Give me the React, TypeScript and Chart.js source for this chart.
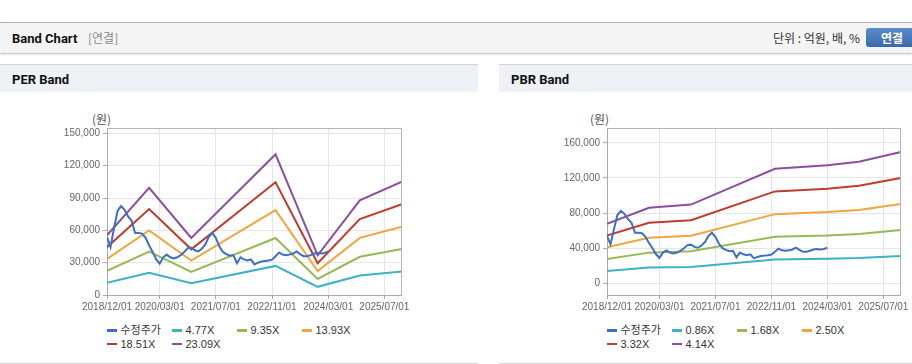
import React, { useEffect, useRef } from 'react';
import { Chart, registerables } from 'chart.js';

Chart.register(...registerables);

// ---- shared x axis (months since 2018/12) ----
const xMax = 84;
const xTickMonths = [0, 15, 31, 47, 63, 79];
const xTickLabels = ['2018/12/01', '2020/03/01', '2021/07/01', '2022/11/01', '2024/03/01', '2025/07/01'];

// ---- adjusted price (monthly from 2018/12) ----
const priceLabel = '수정주가';
const priceValues = [
  53800, 44500, 62000, 78000, 82500, 79000, 73000, 69000, 57600, 57600,
  57000, 53000, 46000, 40000, 33000, 29000, 35000, 37500, 35000, 34000,
  35000, 37000, 39900, 43500, 44000, 41500, 40500, 43000, 47000, 54000,
  57600, 53000, 45000, 40000, 38000, 36500, 37000, 29500, 35000, 33000,
  32000, 33000, 28400, 30000, 31000, 31500, 32000, 32800, 36000, 39500,
  37500, 37000, 37500, 38500, 40500, 38000, 36000, 36000, 37000, 38500,
  39000, 38500, 39000, 40500,
];

// ---- PER band ----
const perBandMonths = [0, 12, 24, 48, 60, 72, 84];
const perLabels = ['4.77X', '9.35X', '13.93X', '18.51X', '23.09X'];
const per477 = [11400, 20600, 10900, 27000, 7600, 18100, 21700];
const per935 = [22400, 40300, 21400, 52900, 14900, 35500, 42600];
const per1393 = [33400, 60000, 31900, 78800, 22200, 53000, 63400];
const per1851 = [44400, 79800, 42400, 104700, 29500, 70400, 84300];
const per2309 = [55400, 99500, 52900, 130600, 36800, 87800, 105100];
const perYTicks = [0, 30000, 60000, 90000, 120000, 150000];
const perYMin = 0;
const perYMax = 155000;

// ---- PBR band ----
const pbrBandMonths = [0, 12, 24, 48, 63, 72, 84];
const pbrLabels = ['0.86X', '1.68X', '2.50X', '3.32X', '4.14X'];
const pbr086 = [14100, 17900, 18600, 27100, 27900, 28800, 31100];
const pbr168 = [27500, 34900, 36400, 53000, 54500, 56200, 60700];
const pbr250 = [40900, 51900, 54200, 78800, 81200, 83600, 90400];
const pbr332 = [54400, 69000, 71900, 104700, 107800, 111100, 120000];
const pbr414 = [67800, 86000, 89700, 130500, 134400, 138500, 149700];
const pbrYTicks = [0, 40000, 80000, 120000, 160000];
const pbrYMin = -13400;
const pbrYMax = 177000;

const seriesColors = ['#3d6fc7', '#3bb3c5', '#97b954', '#f0a63c', '#c23b2e', '#8c4f9d'];

const KR = "'Noto Sans CJK KR', 'Liberation Sans', sans-serif";
const LAT = "'Liberation Sans', 'Noto Sans CJK KR', sans-serif";
const TITLE = "Roboto, 'Noto Sans CJK KR', sans-serif";

const framePlugin = {
  id: 'frame',
  afterDraw(chart: any) {
    const { ctx, chartArea } = chart;
    const l = Math.round(chartArea.left) + 0.5;
    const r = Math.round(chartArea.right) - 0.5;
    const t = Math.round(chartArea.top) + 0.5;
    const b = Math.round(chartArea.bottom);
    ctx.save();
    ctx.strokeStyle = '#b4b4b4';
    ctx.lineWidth = 1;
    ctx.beginPath();
    ctx.moveTo(l, t);
    ctx.lineTo(r, t);
    ctx.lineTo(r, b);
    ctx.stroke();
    ctx.restore();
  },
};

type BandProps = {
  left: number; top: number; width: number; height: number;
  yAxisWidth: number; padRight: number; padTop: number;
  yMin: number; yMax: number; yTicks: number[];
  bandMonths: number[]; bandSeries: number[][]; bandLabels: string[];
};

function BandChart(p: BandProps) {
  const ref = useRef<HTMLCanvasElement>(null);
  useEffect(() => {
    if (!ref.current) return;
    const base = { borderWidth: 2, pointRadius: 0, pointHoverRadius: 0, tension: 0, fill: false };
    const datasets: any[] = [
      { ...base, label: priceLabel, borderColor: seriesColors[0], data: priceValues.map((v, i) => ({ x: i, y: v })) },
      ...p.bandSeries.map((arr, k) => ({
        ...base,
        label: p.bandLabels[k],
        borderColor: seriesColors[k + 1],
        data: arr.map((v, j) => ({ x: p.bandMonths[j], y: v })),
      })),
    ];
    const tickFont = { family: LAT, size: 10 };
    const chart = new Chart(ref.current, {
      type: 'line',
      data: { datasets },
      options: {
        animation: false,
        responsive: false,
        maintainAspectRatio: false,
        events: [],
        layout: { padding: { top: p.padTop, right: p.padRight, left: 0, bottom: 0 } },
        plugins: { legend: { display: false }, tooltip: { enabled: false } },
        scales: {
          x: {
            type: 'linear',
            min: 0,
            max: xMax,
            afterBuildTicks: (s: any) => { s.ticks = xTickMonths.map((v) => ({ value: v })); },
            afterFit: (s: any) => { s.height = 25; },
            ticks: {
              autoSkip: false,
              maxRotation: 0,
              padding: 2,
              color: '#666',
              font: tickFont,
              callback: (_v: any, i: number) => xTickLabels[i],
            },
            grid: { color: '#e6e6e6', tickColor: '#aaa', tickLength: 4 },
            border: { color: '#aaa' },
          },
          y: {
            min: p.yMin,
            max: p.yMax,
            afterBuildTicks: (s: any) => { s.ticks = p.yTicks.map((v) => ({ value: v })); },
            afterFit: (s: any) => { s.width = p.yAxisWidth; },
            ticks: {
              padding: 3,
              color: '#666',
              font: tickFont,
              callback: (v: any) => Number(v).toLocaleString('en-US'),
            },
            grid: { color: '#e6e6e6', tickColor: '#aaa', tickLength: 4 },
            border: { color: '#aaa' },
          },
        },
      } as any,
      plugins: [framePlugin],
    });
    return () => chart.destroy();
  }, []);
  return (
    <canvas
      ref={ref}
      width={p.width}
      height={p.height}
      style={{ position: 'absolute', left: p.left, top: p.top, width: p.width, height: p.height }}
    />
  );
}

function Legend({ left, top, labels }: { left: number; top: number; labels: string[] }) {
  const items = [priceLabel, ...labels];
  return (
    <div style={{ position: 'absolute', left, top, width: 260, display: 'flex', flexWrap: 'wrap' }}>
      {items.map((t, i) => (
        <div key={t} style={{ width: 65, height: 13.4, display: 'flex', alignItems: 'center' }}>
          <span style={{ display: 'inline-block', width: 10, height: 2.5, background: seriesColors[i], marginRight: 3.5 }} />
          <span style={{ fontSize: 11, color: '#333', fontFamily: LAT, lineHeight: '13px', whiteSpace: 'nowrap' }}>{t}</span>
        </div>
      ))}
    </div>
  );
}

function Panel({ left, width, title }: { left: number; width: number; title: string }) {
  return (
    <div style={{ position: 'absolute', left, top: 64, width, height: 298, borderTop: '1px solid #d6d6d6', borderBottom: '1px solid #d6d6d6', background: '#fff' }}>
      <div style={{ position: 'absolute', left: 0, top: 0, width, height: 27, background: '#eef2f7' }}>
        <span style={{ position: 'absolute', left: 12, top: 6, fontFamily: TITLE, fontWeight: 700, fontSize: 13, lineHeight: '18px', color: '#111' }}>{title}</span>
      </div>
    </div>
  );
}

export default function App() {
  return (
    <div style={{ position: 'absolute', left: 0, top: 0, width: 912, height: 364, overflow: 'hidden', background: '#fff', fontFamily: KR }}>
      {/* top header */}
      <div style={{ position: 'absolute', left: 0, top: 22, width: 912, height: 30, background: '#f4f4f4', borderTop: '1px solid #b4b4b4', boxShadow: '0 1px 2px rgba(0,0,0,0.28)' }}>
        <span style={{ position: 'absolute', left: 12, top: 7, fontFamily: TITLE, fontWeight: 700, fontSize: 13, lineHeight: '18px', color: '#111' }}>Band Chart</span>
        <span style={{ position: 'absolute', left: 88, top: 7, fontFamily: KR, fontSize: 12, lineHeight: '16px', color: '#8a8a8a' }}>[연결]</span>
        <span style={{ position: 'absolute', right: 52, top: 7, fontFamily: KR, fontSize: 12, lineHeight: '16px', color: '#333', whiteSpace: 'nowrap' }}>단위 : 억원, 배, %</span>
        <div style={{ position: 'absolute', left: 866, top: 5, width: 52, height: 19, borderRadius: 3, background: 'linear-gradient(#5d8ccb, #3a68ae)', color: '#fff', fontFamily: KR, fontWeight: 700, fontSize: 12, lineHeight: '19px', textAlign: 'center' }}>연결</div>
      </div>

      <Panel left={0} width={478} title="PER Band" />
      <Panel left={499} width={413} title="PBR Band" />

      <span style={{ position: 'absolute', left: 92, top: 111, fontFamily: KR, fontSize: 12, lineHeight: '16px', color: '#555' }}>(원)</span>
      <span style={{ position: 'absolute', left: 590, top: 111, fontFamily: KR, fontSize: 12, lineHeight: '16px', color: '#555' }}>(원)</span>

      <BandChart
        left={47} top={110} width={365} height={210}
        yAxisWidth={60} padRight={10} padTop={18}
        yMin={perYMin} yMax={perYMax} yTicks={perYTicks}
        bandMonths={perBandMonths}
        bandSeries={[per477, per935, per1393, per1851, per2309]}
        bandLabels={perLabels}
      />
      <BandChart
        left={546} top={110} width={365} height={210}
        yAxisWidth={61} padRight={10} padTop={18}
        yMin={pbrYMin} yMax={pbrYMax} yTicks={pbrYTicks}
        bandMonths={pbrBandMonths}
        bandSeries={[pbr086, pbr168, pbr250, pbr332, pbr414]}
        bandLabels={pbrLabels}
      />

      <Legend left={107} top={324} labels={perLabels} />
      <Legend left={607} top={324} labels={pbrLabels} />
    </div>
  );
}
